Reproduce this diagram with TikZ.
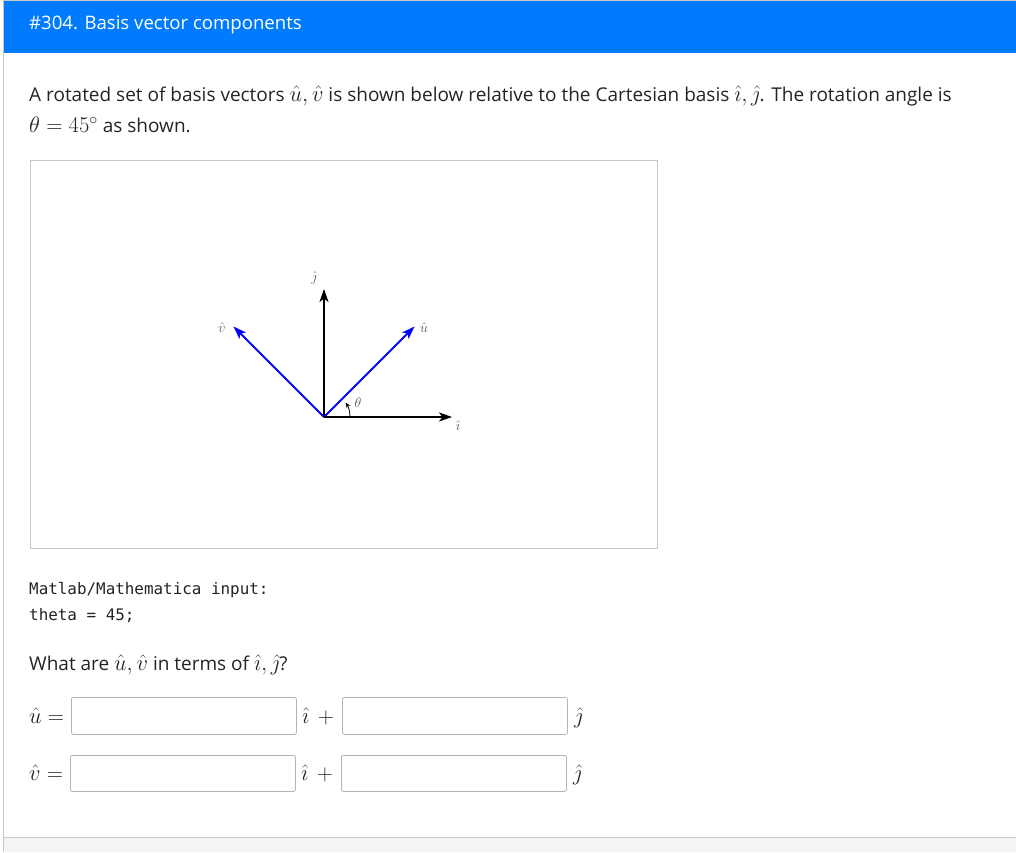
\RequirePackage{fix-cm}
\documentclass[tikz,border=0pt]{standalone}
\usepackage{fontspec}
\setmainfont{Open Sans}
\setmonofont{DejaVu Sans Mono}
\usetikzlibrary{positioning}
\usetikzlibrary{calc}
\usetikzlibrary{arrows.meta}
\DeclareMathSizes{19}{22.5}{16}{12}
\definecolor{headerblue}{HTML}{007BFF}
\definecolor{bodytext}{HTML}{212529}
\definecolor{framegray}{HTML}{C8C8C8}
\definecolor{boxgray}{HTML}{B4B4B4}
\definecolor{footgray}{HTML}{F5F5F5}

\begin{document}
\begin{tikzpicture}[x=1pt, y=-1pt,
		txt/.style={anchor=base west, inner sep=0pt, text=bodytext, font=\fontsize{19}{23}\selectfont},
		code/.style={anchor=base west, inner sep=0pt, text=bodytext, font=\ttfamily\fontsize{15.9}{18}\selectfont},
		answerbox/.style={draw=boxgray, line width=0.8pt, rounded corners=2pt, minimum width=225pt, minimum height=37pt, inner sep=0pt, anchor=north west},
		basisvec/.style={line width=1.9pt, -{Stealth[length=13pt, width=9pt, inset=3.5pt]}},
		veclabel/.style={inner sep=1pt, text=black!65, font=\fontsize{14}{16}\selectfont}]
		
		\useasboundingbox (0,0) rectangle (1016,852);
		
		% page card, header and footer strip
		\fill [white] (0,0) rectangle (1016,852);
		\fill [headerblue] (4,1) rectangle (1016,53);
		\fill [footgray] (4,837) rectangle (1016,852);
		\draw [framegray, line width=1pt] (3.5,852) -- (3.5,0.5) -- (1016,0.5);
		\draw [framegray, line width=1pt] (4,837) -- (1016,837);
		
		\node at (29,29.5) [anchor=base west, inner sep=0pt, text=white, font=\fontsize{18.6}{22}\selectfont] (title) {\#304. Basis vector components};
		
		\node at (29,101.5) [txt] (intro1) {A rotated set of basis vectors $\hat{u}, \hat{v}$ is shown below relative to the Cartesian basis $\hat{\imath}, \hat{\jmath}$. The rotation angle is};
		\node at (29,132.5) [txt] (intro2) {$\theta = 45^\circ$ as shown.};
		
		% the figure
		\node at (29.5,159.5) [draw=framegray, line width=1pt, minimum width=627pt, minimum height=388pt, anchor=north west, inner sep=0pt] (fig) {};
		
		\coordinate (O) at (324,417);
		\coordinate (itip) at (452,417);
		\coordinate (jtip) at (324,289);
		\coordinate (utip) at (414.5,326.5);
		\coordinate (vtip) at (233.5,326.5);
		
		\draw [basisvec, blue] (O) -- (utip);
		\draw [basisvec, blue] (O) -- (vtip);
		\draw [basisvec] (O) -- (itip);
		\draw [basisvec] (O) -- (jtip);
		\draw [line width=0.8pt, -{Stealth[length=5.5pt, width=4.5pt]}] ($(O)+(26,0)$) arc [start angle=0, end angle=34, radius=26pt];
		
		\node at (458,426) [veclabel] (ilabel) {$\hat{\imath}$};
		\node at (314,278) [veclabel] (jlabel) {$\hat{\jmath}$};
		\node at (424,328) [veclabel] (ulabel) {$\hat{u}$};
		\node at (222,328) [veclabel] (vlabel) {$\hat{v}$};
		\node at (358,403) [veclabel] (thetalabel) {$\theta$};
		
		% code and question
		\node at (29,594) [code] (code1) {Matlab/Mathematica input:};
		\node at (29,620) [code] (code2) {theta = 45;};
		\node at (29,670) [txt] (question) {What are $\hat{u}, \hat{v}$ in terms of $\hat{\imath}, \hat{\jmath}$?};
		
		% answer rows
		\node at (29,723) [txt] (ueq) {$\hat{u} =$};
		\node at (71,697) [answerbox] (ui) {};
		\node at (302,723) [txt] (uplus) {$\hat{\imath}\,+{}$};
		\node at (342,697) [answerbox] (uj) {};
		\node at (574,723) [txt] (ujhat) {$\hat{\jmath}$};
		
		\node at (29,780) [txt] (veq) {$\hat{v} =$};
		\node at (70,755) [answerbox, minimum height=36pt] (vi) {};
		\node at (301,780) [txt] (vplus) {$\hat{\imath}\,+{}$};
		\node at (341,755) [answerbox, minimum height=36pt] (vj) {};
		\node at (573,780) [txt] (vjhat) {$\hat{\jmath}$};
		
\end{tikzpicture}
\end{document}
